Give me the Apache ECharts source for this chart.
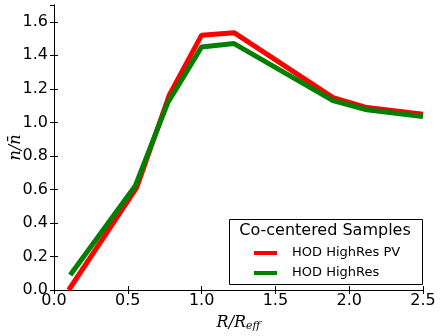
<!DOCTYPE html>
<html>
<head>
<meta charset="utf-8">
<script src="https://cdn.jsdelivr.net/npm/echarts@6/dist/echarts.min.js"></script>
<style>
  html, body { margin: 0; padding: 0; background: #fff; }
  #main { width: 440px; height: 336px; }
</style>
</head>
<body>
<div id="main"></div>
<script>
var dom = document.getElementById('main');
var myChart = echarts.init(dom);

// radius bins (R/Reff)
var radiusPV = [0.10, 0.56, 0.78, 1.00, 1.22, 1.89, 2.12, 2.50];
var radiusHR = [0.11, 0.55, 0.77, 1.00, 1.22, 1.89, 2.12, 2.50];
// normalised density n / nbar
var densityPV = [0.00, 0.61, 1.16, 1.52, 1.535, 1.148, 1.088, 1.049];
var densityHR = [0.09, 0.62, 1.115, 1.45, 1.47, 1.13, 1.075, 1.035];

var seriesNames = ['HOD HighRes PV', 'HOD HighRes'];
var legendTitle = 'Co-centered Samples';

function pairs(xs, ys) {
    return xs.map(function (x, i) { return [x, ys[i]]; });
}

var tickFont = { fontFamily: 'DejaVu Sans', fontSize: 16, color: '#000' };

myChart.setOption({
    animation: false,
    grid: { left: 54, right: 17, top: 5, bottom: 46, outerBoundsMode: 'none', containLabel: false },
    xAxis: [{
        type: 'value',
        min: 0, max: 2.5, interval: 0.5,
        axisLine: { lineStyle: { color: '#000', width: 1 } },
        axisTick: { inside: true, length: 4, lineStyle: { color: '#000' } },
        splitLine: { show: false },
        axisLabel: Object.assign({ margin: 3, formatter: function (v) { return v.toFixed(1); } }, tickFont),
        name: '{it|R/R}{sub|eff}',
        nameLocation: 'middle',
        nameGap: 23,
        nameTextStyle: {
            rich: {
                it: { fontFamily: 'DejaVu Serif', fontStyle: 'italic', fontSize: 16, color: '#000' },
                sub: { fontFamily: 'DejaVu Serif', fontStyle: 'italic', fontSize: 11, color: '#000', padding: [8, 0, 0, 0] }
            }
        }
    }, {
        type: 'value', position: 'top',
        min: 0, max: 2.5, interval: 0.5,
        axisLine: { show: true, lineStyle: { color: '#000', width: 1 } },
        axisTick: { show: true, inside: true, length: 4, lineStyle: { color: '#000' } },
        axisLabel: { show: false },
        splitLine: { show: false }
    }],
    yAxis: [{
        type: 'value',
        min: 0, max: 1.7, interval: 0.2,
        axisLine: { show: true, lineStyle: { color: '#000', width: 1 } },
        axisTick: { show: true, inside: true, length: 4, lineStyle: { color: '#000' } },
        splitLine: { show: false },
        axisLabel: Object.assign({ margin: 6, showMaxLabel: false, formatter: function (v) { return v.toFixed(1); } }, tickFont),
        name: 'n/n\u0304',
        nameLocation: 'middle',
        nameRotate: 90,
        nameGap: 30,
        nameMoveOverlap: false,
        nameTextStyle: { fontFamily: 'DejaVu Serif', fontStyle: 'italic', fontSize: 16, color: '#000' }
    }, {
        type: 'value', position: 'right',
        min: 0, max: 1.7, interval: 0.2,
        axisLine: { show: true, lineStyle: { color: '#000', width: 1 } },
        axisTick: { show: true, inside: true, length: 4, lineStyle: { color: '#000' } },
        axisLabel: { show: false },
        splitLine: { show: false }
    }],
    legend: {
        orient: 'vertical',
        left: 249, top: 241,
        z: 20,
        icon: 'rect',
        itemWidth: 23, itemHeight: 4,
        itemGap: 6,
        textStyle: { fontFamily: 'DejaVu Sans', fontSize: 13, color: '#000', padding: [0, 0, 0, 10], lineHeight: 14 },
        data: seriesNames
    },
    graphic: [{
        type: 'rect',
        shape: { x: 229.5, y: 219.5, width: 193, height: 65 },
        style: { fill: '#fff', stroke: '#000', lineWidth: 1 },
        z: 10
    }, {
        type: 'text',
        x: 325, y: 231,
        style: {
            text: legendTitle, fontFamily: 'DejaVu Sans', fontSize: 16, fill: '#000',
            align: 'center', verticalAlign: 'middle'
        },
        z: 11
    }],
    series: [{
        name: seriesNames[0],
        type: 'line',
        data: pairs(radiusPV, densityPV),
        showSymbol: false,
        color: '#ff0000',
        lineStyle: { width: 5, color: '#ff0000' },
        z: 2
    }, {
        name: seriesNames[1],
        type: 'line',
        data: pairs(radiusHR, densityHR),
        showSymbol: false,
        color: '#008000',
        lineStyle: { width: 5, color: '#008000' },
        z: 3
    }]
});
</script>
</body>
</html>
